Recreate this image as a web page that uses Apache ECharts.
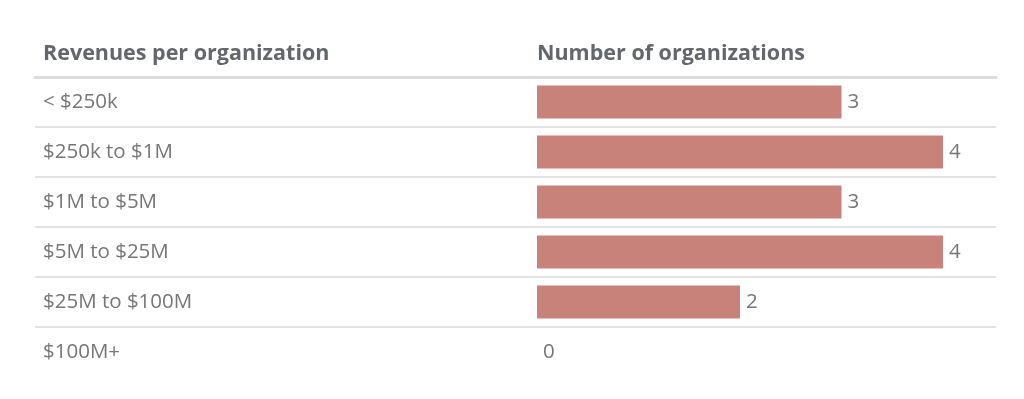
<!DOCTYPE html>
<html>
<head>
<meta charset="utf-8">
<script src="https://cdn.jsdelivr.net/npm/echarts@6/dist/echarts.min.js"></script>
<style>
  html, body { margin: 0; padding: 0; background: #fff; }
  #chart { width: 1024px; height: 399px; }
</style>
</head>
<body>
<div id="chart"></div>
<script>
const revenueBands = ["< $250k", "$250k to $1M", "$1M to $5M", "$5M to $25M", "$25M to $100M", "$100M+"];
const orgCounts = [3, 4, 3, 4, 2, 0];
const headers = ["Revenues per organization", "Number of organizations"];

const font = "'Open Sans', 'Noto Sans', sans-serif";
const chart = echarts.init(document.getElementById("chart"));

// the value axis spans the whole table width so the row lines run edge to edge;
// zero lands on the second column
const unitPx = 101.5;
const zeroOffset = 502;
const gridWidth = 961;

// one colour per row boundary, the last one (under the final row) hidden
const rowLineColors = revenueBands.map(() => "#e2e2e2").concat(["rgba(0,0,0,0)"]);

const headerStyle = { fontFamily: font, fontSize: 21.5, fontWeight: "bold", color: "#63676b" };

chart.setOption({
  animation: false,
  title: [
    { text: headers[0], left: 43, top: 43, padding: 0, textStyle: headerStyle },
    { text: headers[1], left: 537, top: 43, padding: 0, textStyle: headerStyle }
  ],
  grid: { left: 35, width: gridWidth, top: 77, height: 300 },
  xAxis: {
    type: "value",
    position: "top",
    min: -zeroOffset / unitPx,
    max: (gridWidth - zeroOffset) / unitPx,
    axisLine: { show: true, lineStyle: { color: "#dcdcdc", width: 3 } },
    axisTick: { show: false },
    axisLabel: { show: false },
    splitLine: { show: false }
  },
  yAxis: {
    type: "category",
    inverse: true,
    data: revenueBands,
    axisLine: { show: false },
    axisTick: { show: false },
    axisLabel: {
      inside: true, margin: 8,
      fontFamily: font, fontSize: 20.5, color: "#767676"
    },
    splitLine: {
      show: true,
      lineStyle: { color: rowLineColors, width: 2 }
    }
  },
  series: [{
    type: "bar",
    data: orgCounts,
    barWidth: 33,
    itemStyle: { color: "#c9827a" },
    label: {
      show: true, position: "right", distance: 6,
      fontFamily: font, fontSize: 20.5, color: "#767676"
    }
  }]
});
</script>
</body>
</html>
